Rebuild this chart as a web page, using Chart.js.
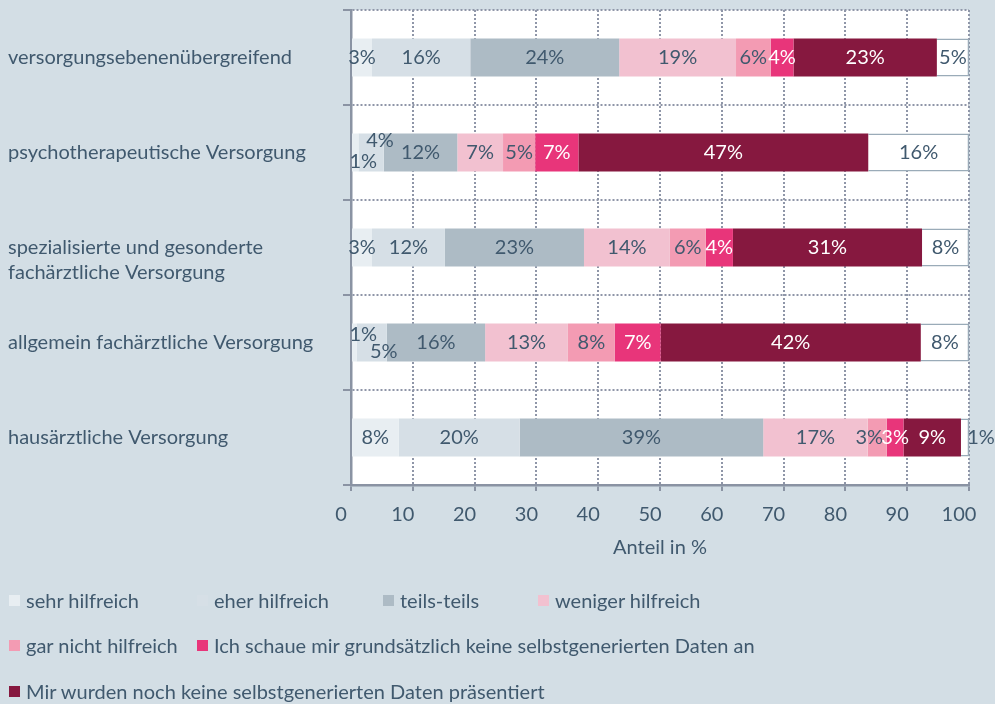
<!DOCTYPE html>
<html>
<head>
<meta charset="utf-8">
<script src="https://cdn.jsdelivr.net/npm/chart.js@4.4.0/dist/chart.umd.min.js"></script>
<style>
    body { margin: 0; background: #d3dee5; font-family: Lato, sans-serif; }
    #wrap { position: relative; width: 995px; height: 704px; }
    #legend { position: absolute; left: 0; top: 0; width: 995px; height: 704px; pointer-events: none; }
    .item { position: absolute; display: flex; align-items: center; font-size: 20px; color: #40596e; white-space: nowrap; transform: translateY(-50%); }
    .box { width: 11px; height: 11px; margin-right: 6px; }
</style>
</head>
<body>
<div id="wrap">
    <canvas id="chart" width="995" height="704"></canvas>
    <div id="legend"></div>
</div>
<script>
const categories = [
    'versorgungsebenenübergreifend',
    'psychotherapeutische Versorgung',
    ['', 'spezialisierte und gesonderte', 'fachärztliche Versorgung'],
    'allgemein fachärztliche Versorgung',
    'hausärztliche Versorgung'
];
const seriesNames = [
    'sehr hilfreich',
    'eher hilfreich',
    'teils-teils',
    'weniger hilfreich',
    'gar nicht hilfreich',
    'Ich schaue mir grundsätzlich keine selbstgenerierten Daten an',
    'Mir wurden noch keine selbstgenerierten Daten präsentiert',
    'keine Angabe'
];
const sehrHilfreich     = [3.4, 1.2, 3.4, 0.9, 7.7];
const eherHilfreich     = [15.9, 4.1, 11.8, 4.9, 19.6];
const teilsTeils        = [24.1, 11.9, 22.5, 15.9, 39.4];
const wenigerHilfreich  = [18.9, 7.4, 13.9, 13.4, 16.9];
const garNichtHilfreich = [5.6, 5.2, 5.8, 7.6, 3.1];
const schaueNicht       = [3.7, 7.0, 4.4, 7.4, 2.7];
const nichtPraesentiert = [23.2, 46.9, 30.6, 42.1, 9.3];
const keineAngabe       = [5.2, 16.3, 7.6, 7.8, 1.3];
const xTicks = [0, 10, 20, 30, 40, 50, 60, 70, 80, 90, 100];

const seriesValues = [sehrHilfreich, eherHilfreich, teilsTeils, wenigerHilfreich,
    garNichtHilfreich, schaueNicht, nichtPraesentiert, keineAngabe];
const colors = ['#e8eef2', '#d6dfe6', '#adbbc5', '#f2c1d0', '#f39bb3', '#e8357a', '#86183f', '#ffffff'];
const labelColors = ['#40596e', '#40596e', '#40596e', '#40596e', '#40596e', '#ffffff', '#ffffff', '#40596e'];
const textColor = '#40596e';
const axisColor = '#8a93a3';
const gridColor = '#8f96a8';

// hand placement of a few crowded labels, [dx, dy] keyed by "series,row"
const labelNudge = {
    '0,1': [8, 9], '1,1': [9, -12],
    '0,3': [9, -8], '1,3': [12, 9],
    '4,4': [-8, 0], '7,4': [16, 0]
};
// legend columns / rows as in the original
const legendSpots = [[9, 600], [197, 600], [383, 600], [538, 600], [9, 645], [197, 645], [9, 691]];

const barLabels = {
    id: 'barLabels',
    afterDatasetsDraw(chart) {
        const ctx = chart.ctx;
        ctx.save();
        ctx.font = '20px Lato';
        ctx.textAlign = 'center';
        ctx.textBaseline = 'middle';
        chart.data.datasets.forEach((ds, i) => {
            chart.getDatasetMeta(i).data.forEach((bar, j) => {
                const p = bar.getCenterPoint();
                const n = labelNudge[i + ',' + j] || [0, 0];
                ctx.fillStyle = labelColors[i];
                ctx.fillText(Math.round(ds.data[j]) + '%', p.x + n[0], p.y + n[1]);
            });
        });
        ctx.restore();
    }
};

const plotBg = {
    id: 'plotBg',
    beforeDraw(chart) {
        const a = chart.chartArea;
        chart.ctx.save();
        chart.ctx.fillStyle = '#ffffff';
        chart.ctx.fillRect(a.left, a.top, a.right - a.left, a.bottom - a.top);
        chart.ctx.restore();
    }
};

const datasets = seriesNames.map((name, i) => ({
    label: name,
    data: seriesValues[i],
    backgroundColor: colors[i],
    borderColor: i === 7 ? '#9aabb8' : colors[i],
    borderWidth: i === 7 ? 1.5 : 0,
    categoryPercentage: 1,
    barPercentage: 0.4
}));

const font = { family: 'Lato', size: 20, lineHeight: 1.25 };

new Chart(document.getElementById('chart'), {
    type: 'bar',
    data: { labels: categories, datasets },
    options: {
        indexAxis: 'y',
        responsive: false,
        animation: false,
        layout: { padding: { left: 8, top: 10, right: 26, bottom: 134 } },
        plugins: { legend: { display: false }, tooltip: { enabled: false } },
        scales: {
            x: {
                stacked: true,
                min: 0,
                max: 100,
                afterBuildTicks: s => { s.ticks = xTicks.map(v => ({ value: v })); },
                ticks: { color: textColor, font, padding: 11, labelOffset: -10 },
                grid: { color: gridColor, lineWidth: 2, tickLength: 6, tickColor: axisColor, tickWidth: 2 },
                border: { color: axisColor, width: 2.5, dash: [2, 2] },
                title: { display: true, text: 'Anteil in %', color: textColor, font: { family: 'Lato', size: 20 }, padding: { top: 0, bottom: 10 } },
                afterFit: s => { s.height = 85; s.paddingLeft = 0; s.paddingRight = 0; }
            },
            y: {
                stacked: true,
                ticks: { color: textColor, font, crossAlign: 'far' },
                grid: { offset: true, color: gridColor, lineWidth: 2, tickLength: 8, tickColor: axisColor, tickWidth: 2 },
                border: { color: axisColor, width: 2.5, dash: [2, 2] },
                afterFit: s => { s.width = 343; s.paddingTop = 0; s.paddingBottom = 0; }
            }
        }
    },
    plugins: [plotBg, barLabels]
});

const legend = document.getElementById('legend');
legendSpots.forEach((spot, i) => {
    const el = document.createElement('div');
    el.className = 'item';
    el.style.left = spot[0] + 'px';
    el.style.top = spot[1] + 'px';
    el.innerHTML = `<span class="box" style="background:${colors[i]}"></span>${seriesNames[i]}`;
    legend.appendChild(el);
});
</script>
</body>
</html>
